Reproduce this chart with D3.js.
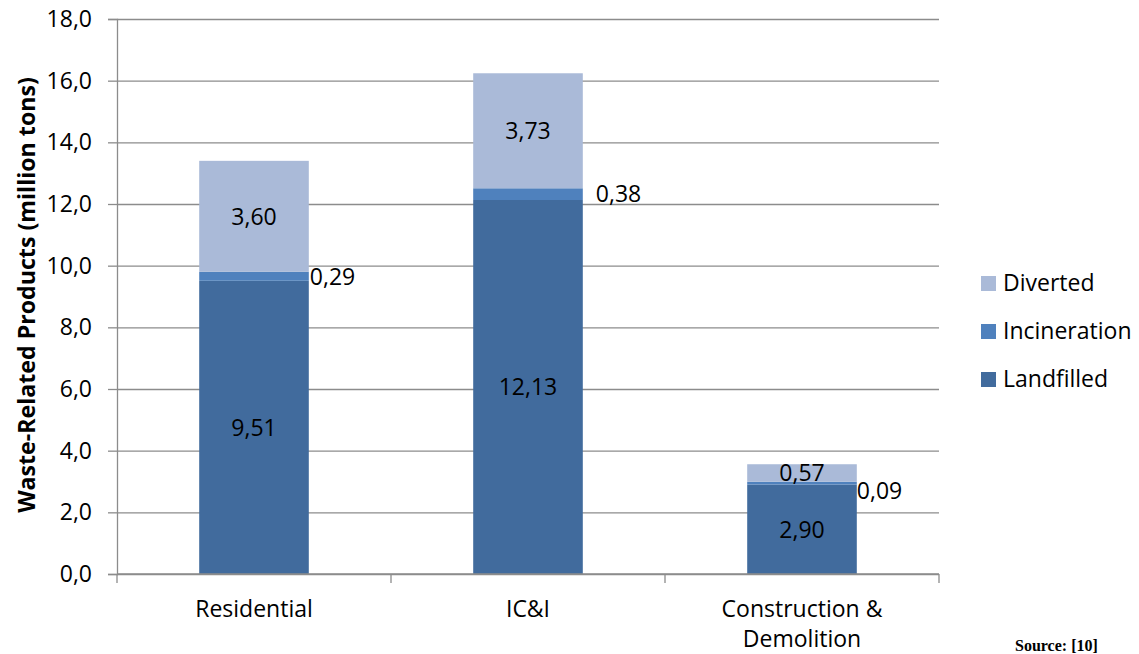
<!DOCTYPE html>
<html>
<head>
<meta charset="utf-8">
<script src="https://cdn.jsdelivr.net/npm/d3@7"></script>
<style>
	body { margin: 0; background: #fff; }
	text { font-family: "Open Sans", sans-serif; fill: #000; }
</style>
</head>
<body>
<script>
// categories and series (million tons)
var categories = ["Residential", "IC&I", "Construction & Demolition"];
var seriesNames = ["Landfilled", "Incineration", "Diverted"];
var landfilled = [9.51, 12.13, 2.90];
var incineration = [0.29, 0.38, 0.09];
var diverted = [3.60, 3.73, 0.57];
var yTicks = [0, 2, 4, 6, 8, 10, 12, 14, 16, 18];

var colors = {
	Landfilled: "#416b9d",
	Incineration: "#4f81bd",
	Diverted: "#aabad8"
};

// nudges for the small incineration labels, as placed in the original
var incLabelDx = [1, 13, 0];
var incLabelDy = [0, 0, 8];

var W = 1139, H = 654;
var margin = { left: 117, right: 200, top: 19, bottom: 80 };
var plotW = W - margin.left - margin.right;
var plotH = H - margin.top - margin.bottom;

var rows = categories.map(function(c, i) {
	return { category: c, i: i, Landfilled: landfilled[i], Incineration: incineration[i], Diverted: diverted[i] };
});

var svg = d3.select("body").append("svg").attr("width", W).attr("height", H);
var g = svg.append("g").attr("transform", "translate(" + margin.left + "," + margin.top + ")");

var x = d3.scaleBand().domain(categories).range([0, plotW]).paddingInner(0.6).paddingOuter(0.3);
var y = d3.scaleLinear().domain([0, 18]).range([plotH, 0]);

function fmt(v, n) { return v.toFixed(n).replace(".", ","); }

// gridlines
g.append("g").attr("class", "grid")
	.call(d3.axisLeft(y).tickValues(yTicks).tickSize(-plotW).tickFormat(""))
	.call(function(s) {
		s.select(".domain").remove();
		s.selectAll("line").attr("stroke", "#8c8c8c").attr("stroke-width", 1.3);
	});

// y axis
g.append("g")
	.call(d3.axisLeft(y).tickValues(yTicks).tickSize(9).tickPadding(16).tickFormat(function(d) { return fmt(d, 1); }))
	.call(function(s) {
		s.select(".domain").attr("stroke", "#8c8c8c").attr("stroke-width", 1.3);
		s.selectAll("line").attr("stroke", "#8c8c8c").attr("stroke-width", 1.3);
		s.selectAll("text").style("font-family", "'Open Sans', sans-serif").style("font-size", "23px").attr("fill", "#000");
	});

// stacked bars
var stack = d3.stack().keys(seriesNames)(rows);
var layers = g.selectAll(".layer").data(stack).enter().append("g")
	.attr("class", "layer").attr("fill", function(d) { return colors[d.key]; });
layers.selectAll("rect").data(function(d) { return d; }).enter().append("rect")
	.attr("x", function(d) { return x(d.data.category); })
	.attr("width", x.bandwidth())
	.attr("y", function(d) { return y(d[1]); })
	.attr("height", function(d) { return y(d[0]) - y(d[1]); });

// data labels
stack.forEach(function(layer) {
	layer.forEach(function(d) {
		var v = d.data[layer.key];
		var cy = y((d[0] + d[1]) / 2);
		var t = g.append("text").text(fmt(v, 2)).style("font-size", "23px").attr("dy", "0.36em");
		if (layer.key === "Incineration") {
			t.attr("x", x(d.data.category) + x.bandwidth() + incLabelDx[d.data.i])
				.attr("y", cy + incLabelDy[d.data.i]);
		} else {
			t.attr("x", x(d.data.category) + x.bandwidth() / 2).attr("y", cy).attr("text-anchor", "middle");
		}
	});
});

// x axis
var xa = g.append("g").attr("transform", "translate(0," + plotH + ")");
xa.append("line").attr("x1", 0).attr("x2", plotW).attr("stroke", "#8c8c8c").attr("stroke-width", 1.3);
d3.range(categories.length + 1).forEach(function(i) {
	var px = i * x.step();
	xa.append("line").attr("x1", px).attr("x2", px).attr("y1", 0).attr("y2", 9)
		.attr("stroke", "#8c8c8c").attr("stroke-width", 1.3);
});
categories.forEach(function(c) {
	var t = xa.append("text").attr("text-anchor", "middle").style("font-size", "23px")
		.attr("transform", "translate(" + (x(c) + x.bandwidth() / 2) + ",43)");
	var words = c.split(" "), line = [], lineNo = 0;
	var ts = t.append("tspan").attr("x", 0).attr("y", 0);
	words.forEach(function(w) {
		line.push(w);
		ts.text(line.join(" "));
		if (ts.node().getComputedTextLength() > x.step() - 40 && line.length > 1) {
			line.pop();
			ts.text(line.join(" "));
			line = [w];
			lineNo++;
			ts = t.append("tspan").attr("x", 0).attr("y", lineNo * 30).text(w);
		}
	});
});

// y axis title
var yt = svg.append("text").text("Waste-Related Products (million tons)")
	.attr("text-anchor", "middle").style("font-weight", "bold").style("font-size", "20px")
	.attr("transform", "translate(27,295) rotate(-90)").attr("dy", "0.35em");
var len = yt.node().getComputedTextLength();
yt.style("font-size", (20 * 436 / len) + "px");

// legend
var legend = svg.append("g").attr("transform", "translate(981,283)");
seriesNames.slice().reverse().forEach(function(k, i) {
	var row = legend.append("g").attr("transform", "translate(0," + (i * 48) + ")");
	row.append("rect").attr("x", 0).attr("y", -7).attr("width", 15).attr("height", 15).attr("fill", colors[k]);
	row.append("text").attr("x", 22).attr("y", 0).attr("dy", "0.36em").style("font-size", "23px").text(k);
});

// source note
svg.append("text").attr("x", 1015).attr("y", 651)
	.style("font-family", "'Liberation Serif', serif").style("font-weight", "bold").style("font-size", "16px")
	.text("Source: [10]");
</script>
</body>
</html>
